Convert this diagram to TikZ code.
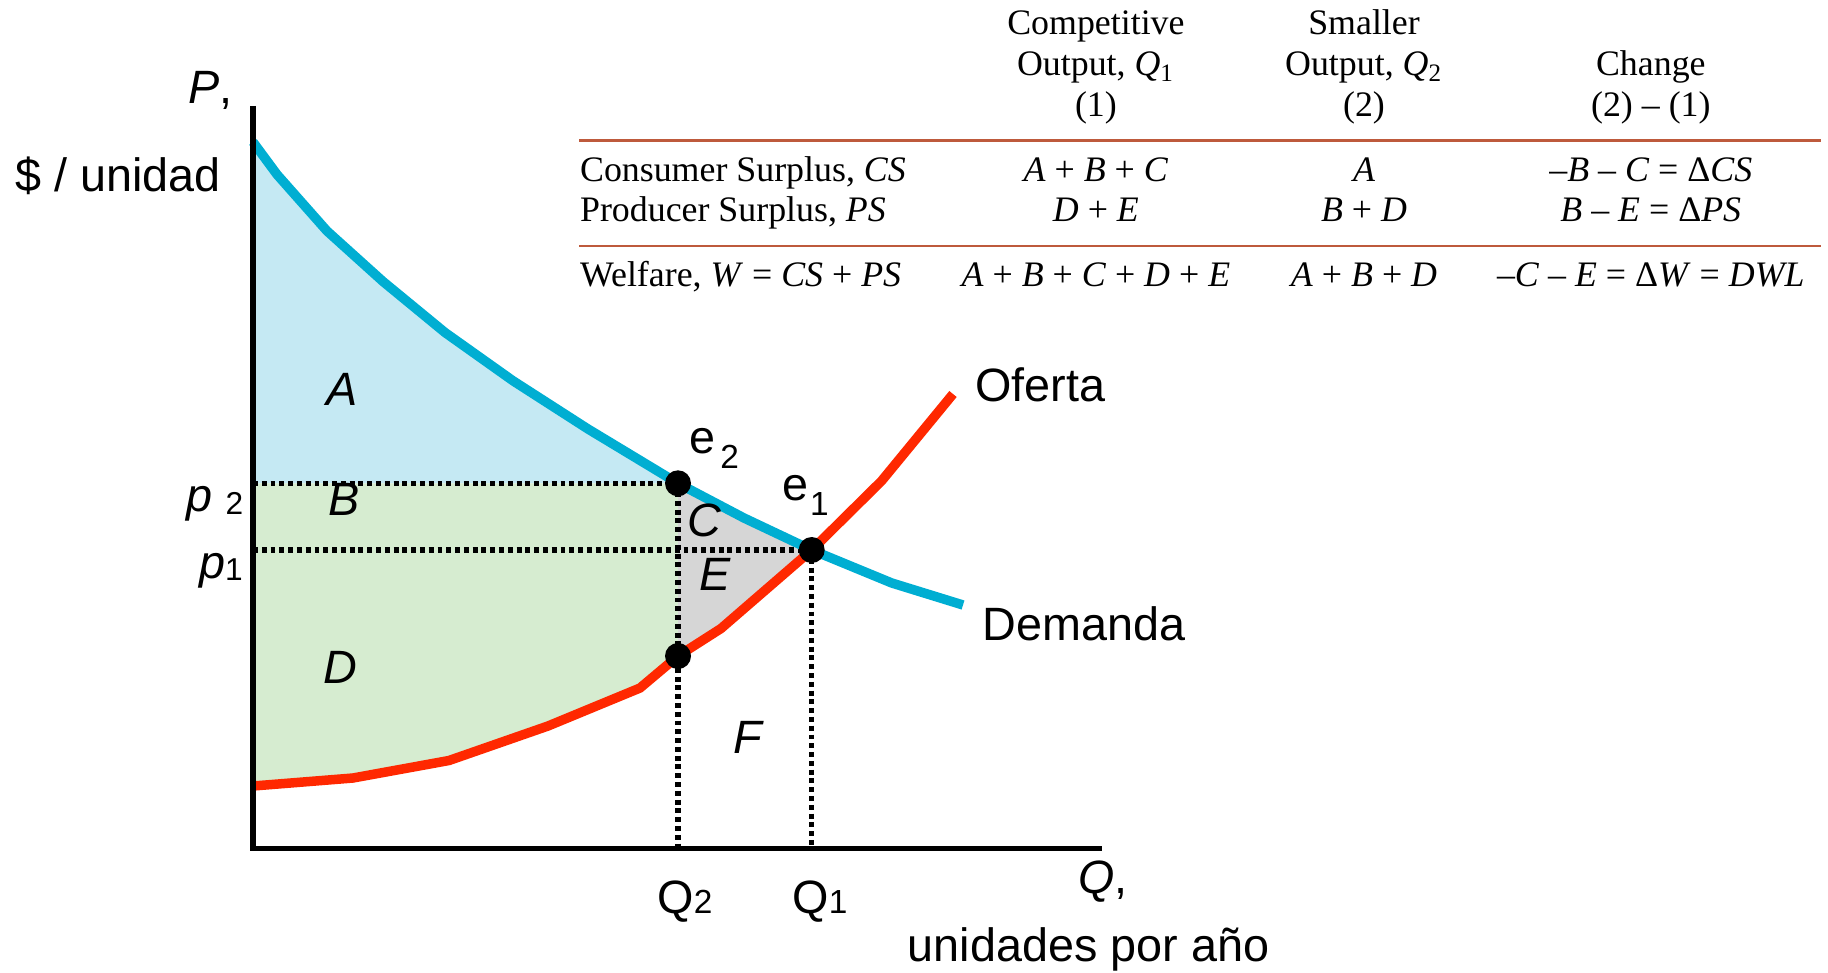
\documentclass[tikz,border=0pt]{standalone}
\usepackage{fontspec}
\setmainfont{Liberation Sans}
\newfontfamily\tabfont{Liberation Serif}
\usetikzlibrary{positioning}

\definecolor{demblue}{RGB}{0,174,210}
\definecolor{supred}{RGB}{255,40,0}
\definecolor{csfill}{RGB}{197,233,243}
\definecolor{psfill}{RGB}{214,236,208}
\definecolor{dwlfill}{RGB}{214,214,214}
\definecolor{rulered}{RGB}{190,90,60}

\begin{document}
\begin{tikzpicture}[
  lbl/.style={font=\fontsize{13.3}{16}\selectfont, text=black, inner sep=0pt},
  tab/.style={font=\tabfont\fontsize{10.2}{12}\selectfont, text=black, inner sep=0pt},
  dotline/.style={black, line width=1.5pt, dash pattern=on 1.4pt off 1.1pt},
  eqpt/.style={circle, fill=black, inner sep=0pt, minimum size=0.26cm}
]
\useasboundingbox (0,0) rectangle (18.28,9.72);

\coordinate (origin) at (2.530,1.233);
\coordinate (ytop) at (2.530,8.660);
\coordinate (xend) at (11.017,1.233);
\coordinate (e2) at (6.780,4.887);
\coordinate (e1) at (8.117,4.220);
\coordinate (lowpt) at (6.780,3.160);

% surplus areas
\fill[csfill] (2.530,8.30) -- (2.770,7.975) -- (3.270,7.41) -- (3.830,6.905) -- (4.45,6.395) -- (5.13,5.912) -- (5.88,5.43) -- (e2) -- (e2 -| origin) -- cycle;
\fill[psfill] (e2 -| origin) -- (e2) -- (lowpt) -- (6.40,2.84) -- (5.48,2.46) -- (4.49,2.115) -- (3.53,1.94) -- (2.530,1.86) -- cycle;
\fill[dwlfill] (e2) -- (7.44,4.54) -- (e1) -- (7.21,3.435) -- (lowpt) -- cycle;

% price and quantity guides
\draw[dotline] (e2 -| origin) -- (e2);
\draw[dotline] (e1 -| origin) -- (e1);
\draw[dotline] (e2) -- (e2 |- origin);
\draw[dotline] (e1) -- (e1 |- origin);

% demand and supply
\draw[demblue,line width=2.7pt] (2.530,8.30) -- (2.770,7.975) -- (3.270,7.41) -- (3.830,6.905) -- (4.45,6.395) -- (5.13,5.912) -- (5.88,5.43) -- (e2) -- (7.44,4.54) -- (e1) -- (8.918,3.89) -- (9.63,3.67);
\draw[supred,line width=2.7pt] (2.530,1.86) -- (3.53,1.94) -- (4.49,2.115) -- (5.48,2.46) -- (6.40,2.84) -- (lowpt) -- (7.21,3.435) -- (e1) -- (8.815,4.91) -- (9.53,5.78);

% axes
\draw[black,line width=1.5pt] (ytop) -- (origin) -- (xend);

\node[eqpt] (dote2) at (e2) {};
\node[eqpt] (dote1) at (e1) {};
\node[eqpt] (dotlow) at (lowpt) {};

\node[lbl,anchor=base west] (lblP) at (1.88,8.687) {\textit{P},};
\node[lbl,anchor=base] (lblunit) at (1.18,7.803) {\$ / unidad};
\node[lbl,anchor=base west] (lblp2) at (1.86,4.603) {\textit{p} \raisebox{-0.9pt}{\fontsize{9}{10}\selectfont 2}};
\node[lbl,anchor=base west] (lblp1) at (1.983,3.937) {\textit{p}\raisebox{-0.7pt}{\fontsize{9}{10}\selectfont 1}};
\node[lbl,anchor=base west] (lble2) at (6.883,5.187) {e\kern1.5pt\raisebox{-4.3pt}{\fontsize{9.5}{10}\selectfont 2}};
\node[lbl,anchor=base west] (lble1) at (7.817,4.720) {e\kern0.5pt\raisebox{-4.3pt}{\fontsize{9.5}{10}\selectfont 1}};
\node[lbl,anchor=base] (lblA) at (3.417,5.670) {\textit{A}};
\node[lbl,anchor=base] (lblB) at (3.438,4.570) {\textit{B}};
\node[lbl,anchor=base] (lblC) at (7.040,4.353) {\textit{C}};
\node[lbl,anchor=base] (lblD) at (3.408,2.887) {\textit{D}};
\node[lbl,anchor=base] (lblE) at (7.150,3.820) {\textit{E}};
\node[lbl,anchor=base] (lblF) at (7.484,2.185) {\textit{F}};
\node[lbl,anchor=base] (lblsup) at (10.405,5.703) {Oferta};
\node[lbl,anchor=base] (lbldem) at (10.840,3.320) {Demanda};
\node[lbl,anchor=base west] (lblQ2) at (6.567,0.587) {Q{\fontsize{9.5}{10}\selectfont 2}};
\node[lbl,anchor=base west] (lblQ1) at (7.917,0.587) {Q{\fontsize{9.5}{10}\selectfont 1}};
\node[lbl,anchor=base] (lblQ) at (11.030,0.790) {\textit{Q},};
\node[lbl,anchor=base] (lblqty) at (10.885,0.103) {unidades por año};

% welfare table
\node[tab,anchor=base] (hd1a) at (10.959,9.377) {Competitive};
\node[tab,anchor=base] (hd1b) at (10.959,8.960) {Output, \textit{Q}\textsubscript{1}};
\node[tab,anchor=base] (hd1c) at (10.959,8.553) {(1)};
\node[tab,anchor=base] (hd2a) at (13.640,9.377) {Smaller};
\node[tab,anchor=base] (hd2b) at (13.640,8.960) {Output, \textit{Q}\textsubscript{2}};
\node[tab,anchor=base] (hd2c) at (13.640,8.553) {(2)};
\node[tab,anchor=base] (hd3b) at (16.508,8.960) {Change};
\node[tab,anchor=base] (hd3c) at (16.508,8.553) {(2) – (1)};

\draw[rulered,line width=0.8pt] (5.794,8.313) -- (18.21,8.313);
\draw[rulered,line width=0.8pt] (5.794,7.260) -- (18.21,7.260);

\node[tab,anchor=base west] (rowcs) at (5.794,7.903) {Consumer Surplus, \textit{CS}};
\node[tab,anchor=base] (cs1) at (10.959,7.903) {\textit{A} + \textit{B} + \textit{C}};
\node[tab,anchor=base] (cs2) at (13.640,7.903) {\textit{A}};
\node[tab,anchor=base] (cs3) at (16.508,7.903) {–\textit{B} – \textit{C} = Δ\textit{CS}};

\node[tab,anchor=base west] (rowps) at (5.794,7.503) {Producer Surplus, \textit{PS}};
\node[tab,anchor=base] (ps1) at (10.959,7.503) {\textit{D} + \textit{E}};
\node[tab,anchor=base] (ps2) at (13.640,7.503) {\textit{B} + \textit{D}};
\node[tab,anchor=base] (ps3) at (16.508,7.503) {\textit{B} – \textit{E} = Δ\textit{PS}};

\node[tab,anchor=base west] (roww) at (5.794,6.860) {Welfare, \textit{W} = \textit{CS} + \textit{PS}};
\node[tab,anchor=base] (w1) at (10.959,6.860) {\textit{A} + \textit{B} + \textit{C} + \textit{D} + \textit{E}};
\node[tab,anchor=base] (w2) at (13.640,6.860) {\textit{A} + \textit{B} + \textit{D}};
\node[tab,anchor=base] (w3) at (16.508,6.860) {–\textit{C} – \textit{E} = Δ\textit{W} = \textit{DWL}};

\end{tikzpicture}
\end{document}
